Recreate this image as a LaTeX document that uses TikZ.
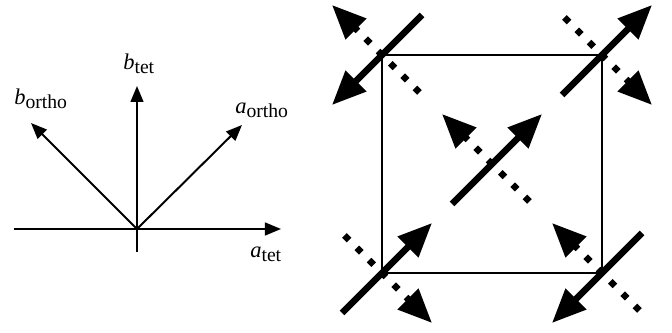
\documentclass[tikz,border=0pt]{standalone}
\usepackage{fontspec}
\setmainfont{Liberation Serif}
\usetikzlibrary{positioning, calc, arrows.meta}

\newcommand{\axlabel}[2]{\textit{#1}\raisebox{-2.8pt}{\fontsize{14}{16}\selectfont #2}}

\begin{document}
\begin{tikzpicture}[x=0.025cm, y=0.025cm,
    axis/.style={line width=1.4pt, -{Triangle[length=0.4cm, width=0.32cm]}},
    spin/.style={line width=0.16cm, -{Triangle[length=0.85cm, width=0.7cm]}},
    dotspin/.style={spin, dash pattern=on 0.16cm off 0.275cm},
    lbl/.style={font=\fontsize{16}{19}\selectfont, inner sep=0pt, anchor=base west}]
      \useasboundingbox (0,0) rectangle (672,333);

      % axes of the two cells
      \coordinate (o) at (137,104);
      \coordinate (left) at (14,104);
      \coordinate (down) at (137,81);
      \coordinate (atet) at (281,104);
      \coordinate (btet) at (137,247);
      \coordinate (aortho) at (242,208);
      \coordinate (bortho) at (31,210);

      \draw[axis] (left) -- (atet);
      \draw[axis] (down) -- (btet);
      \draw[axis] (o) -- (aortho);
      \draw[axis] (o) -- (bortho);

      \node[lbl] (latet) at (250,75) {\axlabel{a}{tet}};
      \node[lbl] (lbtet) at (123,263) {\axlabel{b}{tet}};
      \node[lbl] (laortho) at (235,219) {\axlabel{a}{ortho}};
      \node[lbl] (lbortho) at (14,228) {\axlabel{b}{ortho}};

      % cell with the spins on its sites
      \coordinate (tl) at (382,278);
      \coordinate (tr) at (602,278);
      \coordinate (bl) at (382,60);
      \coordinate (br) at (602,60);
      \coordinate (c) at (492,169);

      \draw[line width=1.2pt] (bl) rectangle (tr);

      \foreach \s/\sx/\sy/\dx/\dy in {tl/-1/-1/-1/1, tr/1/1/1/-1, c/1/1/-1/1, bl/1/1/1/-1, br/-1/-1/-1/1} {
        \draw[dotspin] ($(\s)+(-37.5*\dx,-37.5*\dy)$) -- ($(\s)+(50*\dx,50*\dy)$);
        \draw[spin] ($(\s)+(-40*\sx,-40*\sy)$) -- ($(\s)+(50*\sx,50*\sy)$);
      }
    \end{tikzpicture}
\end{document}
